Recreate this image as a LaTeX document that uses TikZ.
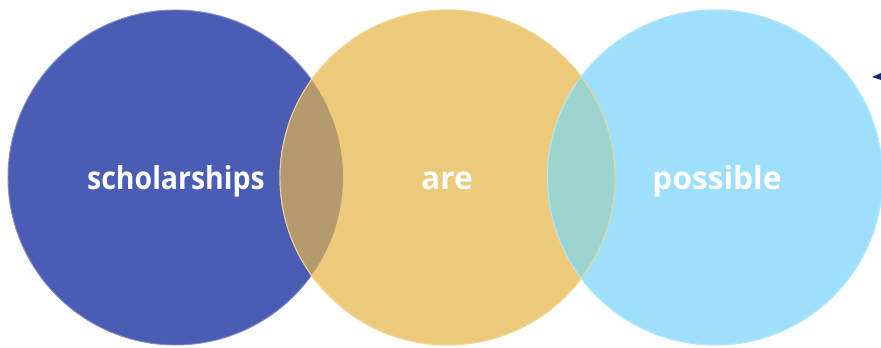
\documentclass[tikz,border=0pt]{standalone}
\usepackage{fontspec}
\setmainfont{Open Sans}
\usetikzlibrary{positioning}
\definecolor{setBlue}{HTML}{4B5CB5}
\definecolor{setGold}{HTML}{EDC97A}
\definecolor{setSky}{HTML}{9EE0FB}
\definecolor{interBG}{HTML}{B59A6E}
\definecolor{interGS}{HTML}{9CD4D0}
\definecolor{tipNavy}{HTML}{1F2A6B}
\tikzset{
  bubble/.style={fill=#1, draw=#1!70!white, line width=0.8pt},
  word/.style={font=\bfseries\fontsize{27}{31}\selectfont, text=white},
  lens/.style={fill=#1}
}

\begin{document}
\begin{tikzpicture}[x=0.03cm, y=0.03cm]

  % ---- Canvas --------------------------------------------------------------
  \useasboundingbox (0, 0) rectangle (881, 348);

  % ---- The three circles ---------------------------------------------------
  \draw[bubble=setBlue] (175.5, 170.5) circle (167.5);
  \draw[bubble=setGold] (447.5, 170.5) circle (167.5);
  \draw[bubble=setSky]  (715.0, 170.5) circle (167.5);

  % ---- Overlaps (filled over the discs) ------------------------------------
  \begin{scope}
    \clip (175.5, 170.5) circle (167.5);
    \fill[lens=interBG] (447.5, 170.5) circle (167.5);
  \end{scope}
  \begin{scope}
    \clip (447.5, 170.5) circle (167.5);
    \fill[lens=interGS] (715.0, 170.5) circle (167.5);
  \end{scope}

  % ---- Outlines again on top -----------------------------------------------
  \draw[setGold!80!white, line width=0.8pt] (447.5, 170.5) circle (167.5);
  \draw[setSky!80!white, line width=0.8pt]  (715.0, 170.5) circle (167.5);

  % ---- Words ---------------------------------------------------------------
  \node[word] (scholar)  at (176, 167) {\scalebox{0.9}[1]{scholarships}};
  \node[word] (are)      at (447, 167) {are};
  \node[word] (possible) at (717, 167) {possible};

  % ---- Small tip at the right edge -----------------------------------------
  \coordinate (tip) at (872, 271);
  \fill[tipNavy] (tip) -- (881, 275) -- (881, 268) -- cycle;

\end{tikzpicture}
\end{document}
